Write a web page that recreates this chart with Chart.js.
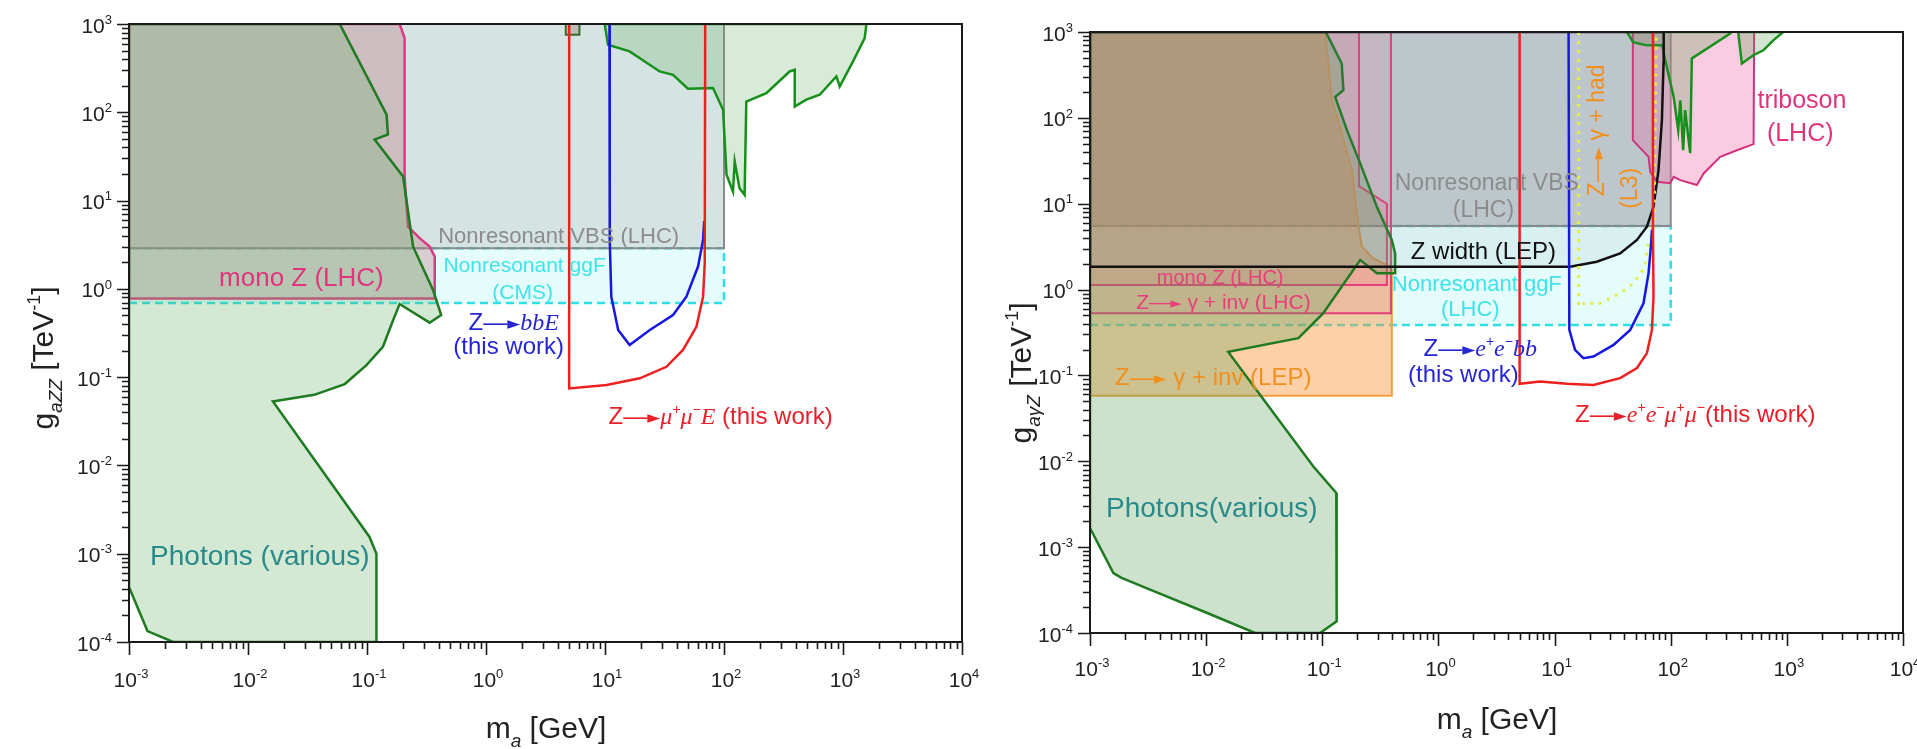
<!DOCTYPE html>
<html>
<head>
<meta charset="utf-8">
<script src="https://cdn.jsdelivr.net/npm/chart.js@4.4.1/dist/chart.umd.min.js"></script>
<style>
  html, body { margin: 0; padding: 0; background: #fff; }
  #wrap { position: relative; width: 1917px; height: 749px; overflow: hidden; }
  canvas { position: absolute; top: 0; }
</style>
</head>
<body>
<div id="wrap">
  <canvas id="left" width="1000" height="749" style="left:0"></canvas>
  <canvas id="right" width="917" height="749" style="left:1000px"></canvas>
</div>
<script>
// axis decades (tick labels are 10^n)
const xDecades = [-3, -2, -1, 0, 1, 2, 3, 4];
const yDecades = [-4, -3, -2, -1, 0, 1, 2, 3];

// ---- left panel: g_aZZ vs m_a  ([m_a GeV, g TeV^-1]) ----
const photonsLowL = [[1e-3, 1000], [0.059, 1000], [0.146, 94], [0.15, 56], [0.116, 49], [0.201, 18.7], [0.244, 3.0],
  [0.359, 0.97], [0.42, 0.506], [0.336, 0.414], [0.188, 0.674], [0.166, 0.444], [0.136, 0.221], [0.099, 0.137],
  [0.065, 0.0835], [0.036, 0.063], [0.0162, 0.053], [0.105, 1.55e-3], [0.12, 1e-3], [0.12, 1e-4], [2.35e-3, 1e-4],
  [1.43e-3, 1.33e-4], [1e-3, 4.2e-4], [1e-3, 1000]];
const photonsHighL = [[9.94, 1000], [10.6, 582], [16.1, 489], [28.8, 290], [37.3, 266], [49.8, 185], [80.8, 188],
  [98.2, 107], [105, 19.6], [119, 12.6], [123, 27.7], [135, 13.8], [149, 11.6], [154, 132], [227, 165], [356, 290],
  [393, 303], [393, 116], [492, 139], [637, 158], [880, 255], [938, 196], [1214, 377], [1521, 693], [1574, 1000], [9.94, 1000]];
const smallBoxL = [[4.68, 1000], [4.68, 757], [6.1, 757], [6.1, 1000], [4.68, 1000]];
const monoZL = [[1e-3, 0.78], [0.371, 0.78], [0.371, 2.32], [0.336, 3.01], [0.277, 3.75], [0.221, 5.07], [0.207, 18.7],
  [0.207, 693], [0.188, 1000], [1e-3, 1000], [1e-3, 0.78]];
const vbsL = [[1e-3, 2.88], [100, 2.88], [100, 1000], [1e-3, 1000], [1e-3, 2.88]];
const ggfL = [[1e-3, 0.69], [100, 0.69], [100, 2.88], [1e-3, 2.88], [1e-3, 0.69]];
const muMuL = [[5, 1000], [5, 0.0746], [10.3, 0.0815], [19.6, 0.097], [32.8, 0.131], [45.2, 0.203], [58.6, 0.372],
  [66.7, 0.816], [68.9, 1.95], [69.5, 1000]];
const bbL = [[10.9, 1000], [10.96, 3.58], [11.3, 0.816], [12.9, 0.342], [16.1, 0.231], [23.8, 0.342], [37.3, 0.506],
  [48.3, 0.816], [60.5, 1.79], [66.7, 3.58], [68.2, 5.9]];

// ---- right panel: g_aγZ vs m_a ----
const photonsLowR = [[1e-3, 1000], [0.106, 1000], [0.109, 958], [0.147, 429], [0.152, 210], [0.129, 175], [0.163, 71.9],
  [0.212, 29.5], [0.295, 9.2], [0.397, 3.78], [0.424, 2.64], [0.424, 1.55], [0.295, 1.55], [0.212, 2.21], [0.102, 0.53],
  [0.0623, 0.272], [0.0155, 0.188], [0.0291, 0.0594], [0.0838, 8.7e-3], [0.132, 4.27e-3], [0.133, 1.37e-4],
  [0.0957, 1e-4], [0.0264, 1e-4], [0.0101, 1.72e-4], [3.29e-3, 3.2e-4], [1.87e-3, 4.38e-4], [1.59e-3, 5.0e-4],
  [1e-3, 1.67e-3], [1e-3, 1000]];
const photonsHighR1 = [[42, 1000], [47.5, 760], [61.5, 700], [84.5, 700], [89.7, 469], [106, 175], [116, 72], [121, 160],
  [128, 42], [133, 123], [147, 38.8], [152, 491], [325, 958], [334, 1000], [42, 1000]];
const photonsHighR2 = [[381, 1000], [410, 429], [514, 536], [627, 612], [764, 800], [931, 1000], [381, 1000]];
const tribosonR = [[47.2, 1000], [47.2, 55], [64.4, 35.2], [66.6, 23.5], [76, 18], [99, 17.3], [106, 20.6], [121, 18.8],
  [168, 16.5], [192, 22.5], [267, 35.2], [371, 42], [517, 49.4], [523, 1000], [47.2, 1000]];
const monoZR = [[1e-3, 1.13], [0.36, 1.13], [0.36, 10], [0.207, 16], [0.207, 1000], [1e-3, 1000], [1e-3, 1.13]];
const gamInvLhcR = [[1e-3, 0.53], [0.39, 0.53], [0.39, 1000], [1e-3, 1000], [1e-3, 0.53]];
const gamInvLepR = [[1e-3, 0.0578], [0.397, 0.0578], [0.397, 1.69], [0.384, 1.85], [0.275, 2.31], [0.219, 3.16],
  [0.198, 7.73], [0.18, 24.6], [0.142, 78.5], [0.121, 161], [0.106, 1000], [1e-3, 1000], [1e-3, 0.0578]];
const vbsR = [[1e-3, 5.5], [100, 5.5], [100, 1000], [1e-3, 1000], [1e-3, 5.5]];
const ggfR = [[1e-3, 0.387], [100, 0.387], [100, 5.5], [1e-3, 5.5], [1e-3, 0.387]];
const zWidthR = [[1e-3, 1.85], [13.6, 1.85], [23.1, 2.11], [36.7, 2.64], [51.2, 3.78], [62.4, 5.4], [71.1, 9.2],
  [78.5, 24.6], [84, 94], [86.7, 429], [87, 1000], [1e-3, 1000], [1e-3, 1.85]];
const gamHadR = [[16.1, 1000], [16.1, 0.632], [19, 0.723], [23.1, 0.662], [28.2, 0.757], [36.7, 0.906], [47.8, 1.18],
  [60.3, 1.85], [62.4, 2.89], [72, 6], [75, 1000]];
const eeMuMuR = [[5, 1000], [5, 0.0798], [7.5, 0.085], [12.8, 0.0798], [21.6, 0.0776], [36.7, 0.0929], [51.2, 0.122],
  [62.4, 0.182], [68.9, 0.339], [71.1, 0.828], [70.3, 4.9], [70.3, 1000]];
const eeBbR = [[13.2, 1000], [13.4, 0.339], [15, 0.198], [17.7, 0.159], [21.6, 0.166], [32.2, 0.227], [44.8, 0.339],
  [58.3, 0.693], [64.4, 1.55], [67.5, 3.16], [69, 5]];

const GREEN = '#1f7a22';
const ARROW = [['\u2014', 'n'], ['\u25BA', 'h']];

function series(pts, line, fill, extra) {
  return Object.assign({
    data: pts.map(p => ({ x: p[0], y: p[1] })),
    showLine: true,
    borderColor: line,
    backgroundColor: fill || 'transparent',
    fill: fill ? 'shape' : false,
    borderWidth: 2.5,
    pointRadius: 0,
    pointHoverRadius: 0,
    tension: 0
  }, extra || {});
}

function drawRuns(ctx, runs, cx, cy, size, color, rot, align) {
  const sans = '"Liberation Sans", Arial, sans-serif';
  const serif = '"Liberation Serif", "Times New Roman", serif';
  const st = {
    n: [size + 'px ' + sans, 0],
    i: ['italic ' + size + 'px ' + serif, 0],
    p: [Math.round(size * 0.6) + 'px ' + sans, -size * 0.42],
    b: ['italic ' + Math.round(size * 0.62) + 'px ' + sans, size * 0.3],
    h: [Math.round(size * 0.7) + 'px "DejaVu Sans", sans-serif', -size * 0.04]
  };
  ctx.save();
  ctx.translate(cx, cy);
  if (rot) ctx.rotate(rot);
  let w = 0;
  for (const r of runs) { ctx.font = st[r[1]][0]; w += ctx.measureText(r[0]).width; }
  let x = align === 'r' ? -w : -w / 2;
  ctx.fillStyle = color;
  ctx.textAlign = 'left';
  ctx.textBaseline = 'alphabetic';
  for (const r of runs) {
    ctx.font = st[r[1]][0];
    ctx.fillText(r[0], x, size * 0.36 + st[r[1]][1]);
    x += ctx.measureText(r[0]).width;
  }
  ctx.restore();
}

function decorate(chart, deco) {
  const ctx = chart.ctx, a = chart.chartArea;
  const sx = chart.scales.x, sy = chart.scales.y;
  ctx.save();
  ctx.strokeStyle = '#1a1a1a';
  ctx.lineWidth = 2;
  ctx.strokeRect(a.left, a.top, a.right - a.left, a.bottom - a.top);
  ctx.lineWidth = 1.6;
  ctx.beginPath();
  xDecades.forEach((e, i) => {
    for (let k = 1; k <= 9; k++) {
      if (i === xDecades.length - 1 && k > 1) break;
      const px = Math.round(sx.getPixelForValue(k * Math.pow(10, e))) + 0.5;
      ctx.moveTo(px, a.bottom);
      ctx.lineTo(px, a.bottom + (k === 1 ? 13 : 7));
    }
  });
  yDecades.forEach((e, i) => {
    for (let k = 1; k <= 9; k++) {
      if (i === yDecades.length - 1 && k > 1) break;
      const py = Math.round(sy.getPixelForValue(k * Math.pow(10, e))) + 0.5;
      ctx.moveTo(a.left, py);
      ctx.lineTo(a.left - (k === 1 ? 12 : 7), py);
    }
  });
  ctx.stroke();
  ctx.restore();

  xDecades.forEach(e => {
    drawRuns(ctx, [['10', 'n'], [String(e), 'p']], sx.getPixelForValue(Math.pow(10, e)) + 2, a.bottom + deco.xLabOff, 21, '#222');
  });
  yDecades.forEach(e => {
    drawRuns(ctx, [['10', 'n'], [String(e), 'p']], a.left - 17, sy.getPixelForValue(Math.pow(10, e)) + 1, 21, '#222', 0, 'r');
  });

  drawRuns(ctx, deco.yTitle, deco.yTitlePos[0], deco.yTitlePos[1], 30, '#222', -Math.PI / 2);
  drawRuns(ctx, [['m', 'n'], ['a', 'b'], [' [GeV]', 'n']], deco.xTitlePos[0], deco.xTitlePos[1], 30, '#222');

  deco.labels.forEach(l => {
    drawRuns(ctx, l.runs, sx.getPixelForValue(l.x), sy.getPixelForValue(l.y), l.size, l.color, l.rot ? -Math.PI / 2 : 0);
  });
}

function makeChart(id, datasets, pad, yW, xH, deco) {
  return new Chart(document.getElementById(id), {
    type: 'scatter',
    data: { datasets: datasets },
    options: {
      responsive: false,
      animation: false,
      events: [],
      layout: { padding: pad },
      plugins: { legend: { display: false }, tooltip: { enabled: false } },
      scales: {
        x: {
          type: 'logarithmic', min: 1e-3, max: 1e4,
          grid: { display: false }, border: { display: false }, ticks: { display: false },
          afterFit: s => { s.height = xH; }
        },
        y: {
          type: 'logarithmic', min: 1e-4, max: 1e3,
          grid: { display: false }, border: { display: false }, ticks: { display: false },
          afterFit: s => { s.width = yW; }
        }
      }
    },
    plugins: [{ id: 'deco_' + id, afterDraw: c => decorate(c, deco) }]
  });
}

// ---------------- left chart ----------------
const leftSets = [
  series(muMuL, '#ee1f1f', null),
  series(bbL, '#1717e0', null),
  series(smallBoxL, '#3a6a2a', 'rgba(150,120,90,0.35)', { borderWidth: 2 }),
  series(photonsLowL, GREEN, 'rgba(100,175,100,0.28)'),
  series(photonsHighL, '#16901a', 'rgba(100,175,100,0.25)'),
  series(monoZL, '#d83b82', 'rgba(190,120,130,0.35)'),
  series(vbsL, '#8a8a8a', 'rgba(100,150,150,0.27)', { borderWidth: 2 }),
  series(ggfL, '#2ee0e6', 'rgba(170,245,245,0.3)', { borderDash: [8, 5] })
];

makeChart('left', leftSets, { left: 0, right: 38, top: 24, bottom: 0 }, 129, 107, {
  xLabOff: 37,
  yTitle: [['g', 'n'], ['aZZ', 'b'], [' [TeV', 'n'], ['-1', 'p'], [']', 'n']],
  yTitlePos: [42, 358],
  xTitlePos: [546, 727],
  labels: [
    { x: 4.08, y: 4.08, runs: [['Nonresonant VBS (LHC)', 'n']], size: 22, color: '#8c8c8c' },
    { x: 2.11, y: 1.87, runs: [['Nonresonant ggF', 'n']], size: 21, color: '#3fe3ea' },
    { x: 2.03, y: 0.93, runs: [['(CMS)', 'n']], size: 21, color: '#3fe3ea' },
    { x: 0.0281, y: 1.37, runs: [['mono Z (LHC)', 'n']], size: 26, color: '#e0357d' },
    { x: 1.71, y: 0.425, runs: [['Z', 'n']].concat(ARROW, [['bbE', 'i']]), size: 24, color: '#2626d4' },
    { x: 1.55, y: 0.231, runs: [['(this work)', 'n']], size: 24, color: '#2626d4' },
    { x: 93.8, y: 0.0372, runs: [['Z', 'n']].concat(ARROW, [['\u03BC', 'i'], ['+', 'p'], ['\u03BC', 'i'], ['\u2212', 'p'], ['E', 'i'], [' (this work)', 'n']]), size: 24, color: '#e8202a' },
    { x: 0.01256, y: 9.6e-4, runs: [['Photons (various)', 'n']], size: 28, color: '#2a8a8a' }
  ]
});

// ---------------- right chart ----------------
const rightSets = [
  series(eeMuMuR, '#ee1f1f', null),
  series(eeBbR, '#1717e0', null),
  series(gamHadR, '#e2ee4a', null, { borderWidth: 3, borderDash: [3, 6] }),
  series(zWidthR, '#111111', 'rgba(120,140,145,0.1)'),
  series(photonsLowR, GREEN, 'rgba(90,160,90,0.3)'),
  series(photonsHighR1, '#16901a', 'rgba(90,160,90,0.28)'),
  series(photonsHighR2, '#16901a', 'rgba(90,160,90,0.28)'),
  series(tribosonR, '#d3307e', 'rgba(240,110,170,0.35)', { borderWidth: 2 }),
  series(monoZR, '#e2407a', 'rgba(230,100,140,0.18)', { borderWidth: 2 }),
  series(gamInvLhcR, '#e2407a', 'rgba(230,100,140,0.18)', { borderWidth: 2 }),
  series(gamInvLepR, '#f0a040', 'rgba(250,150,60,0.45)', { borderWidth: 2 }),
  series(vbsR, '#8a8a8a', 'rgba(80,105,115,0.33)', { borderWidth: 2 }),
  series(ggfR, '#2ee0e6', 'rgba(170,245,245,0.3)', { borderDash: [8, 5] })
];

makeChart('right', rightSets, { left: 0, right: 14, top: 32, bottom: 0 }, 90, 116, {
  xLabOff: 35,
  yTitle: [['g', 'n'], ['a\u03B3Z', 'b'], [' [TeV', 'n'], ['-1', 'p'], [']', 'n']],
  yTitlePos: [20, 373],
  xTitlePos: [497, 718],
  labels: [
    { x: 2.61, y: 18, runs: [['Nonresonant VBS', 'n']], size: 23, color: '#8c8c8c' },
    { x: 2.44, y: 8.8, runs: [['(LHC)', 'n']], size: 23, color: '#8c8c8c' },
    { x: 2.44, y: 2.89, runs: [['Z width (LEP)', 'n']], size: 24, color: '#111' },
    { x: 2.14, y: 1.18, runs: [['Nonresonant ggF', 'n']], size: 22, color: '#3fe3ea' },
    { x: 1.88, y: 0.607, runs: [['(LHC)', 'n']], size: 22, color: '#3fe3ea' },
    { x: 2.29, y: 0.213, runs: [['Z', 'n']].concat(ARROW, [['e', 'i'], ['+', 'p'], ['e', 'i'], ['\u2212', 'p'], ['bb', 'i']]), size: 24, color: '#2626d4' },
    { x: 1.64, y: 0.106, runs: [['(this work)', 'n']], size: 24, color: '#2626d4' },
    { x: 163, y: 0.0364, runs: [['Z', 'n']].concat(ARROW, [['e', 'i'], ['+', 'p'], ['e', 'i'], ['\u2212', 'p'], ['\u03BC', 'i'], ['+', 'p'], ['\u03BC', 'i'], ['\u2212', 'p'], ['(this work)', 'n']]), size: 24, color: '#e8202a' },
    { x: 1349, y: 164, runs: [['triboson', 'n']], size: 25, color: '#e0357d' },
    { x: 1303, y: 68.7, runs: [['(LHC)', 'n']], size: 25, color: '#e0357d' },
    { x: 22.4, y: 71.6, runs: [['Z', 'n']].concat(ARROW, [[' \u03B3 + had', 'n']]), size: 23, color: '#f0901e', rot: true },
    { x: 43.4, y: 15.1, runs: [['(L3)', 'n']], size: 23, color: '#f0901e', rot: true },
    { x: 0.0132, y: 1.41, runs: [['mono Z (LHC)', 'n']], size: 20, color: '#e8407a' },
    { x: 0.0141, y: 0.723, runs: [['Z', 'n']].concat(ARROW, [[' \u03B3 + inv (LHC)', 'n']]), size: 21, color: '#e8407a' },
    { x: 0.0115, y: 0.097, runs: [['Z', 'n']].concat(ARROW, [[' \u03B3 + inv (LEP)', 'n']]), size: 24, color: '#f0901e' },
    { x: 0.0112, y: 2.98e-3, runs: [['Photons(various)', 'n']], size: 28, color: '#2a8a8a' }
  ]
});
</script>
</body>
</html>
